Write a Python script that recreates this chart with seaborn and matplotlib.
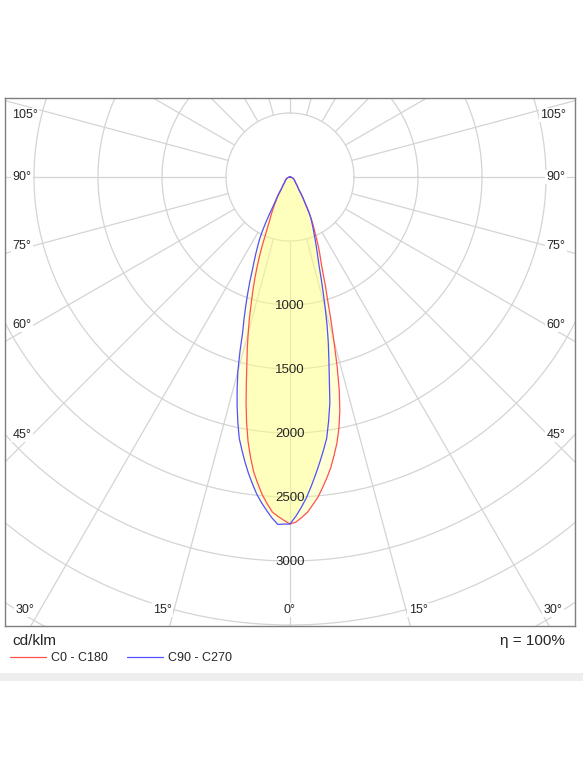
import numpy as np
import pandas as pd
import seaborn as sns
import matplotlib.pyplot as plt
from matplotlib.patches import Rectangle

# gamma angles (deg) and luminous intensity (cd/klm) per half plane
gamma = list(range(0, 36)) + [37.5, 40, 45, 50, 55, 60, 65, 70, 75, 80, 85, 90]
tail = [100, 85, 60, 50, 42, 35, 28, 22, 15, 10, 5, 0]
c0 = [2711, 2696, 2660, 2622, 2566, 2510, 2439, 2367, 2292, 2202,
      2111, 2002, 1872, 1712, 1520, 1323, 1157, 1005, 897, 788,
      711, 654, 598, 541, 485, 445, 407, 366, 318, 270,
      229, 207, 184, 162, 140, 120] + tail
c180 = [2711, 2683, 2654, 2622, 2559, 2491, 2408, 2324, 2213, 2094,
        1952, 1799, 1640, 1498, 1380, 1262, 1151, 1039, 942, 850,
        758, 670, 582, 494, 431, 378, 345, 313, 282, 252,
        225, 204, 183, 162, 141, 120] + tail
c90 = [2711, 2650, 2580, 2504, 2415, 2326, 2237, 2149, 2061, 1929,
       1793, 1611, 1461, 1331, 1200, 1065, 943, 836, 740, 673,
       618, 568, 523, 483, 447, 414, 384, 355, 320, 280,
       240, 212, 187, 163, 141, 120] + tail
c270 = [2711, 2712, 2716, 2669, 2612, 2554, 2490, 2413, 2336, 2252,
        2165, 2079, 1960, 1837, 1707, 1575, 1418, 1263, 1161, 1060,
        965, 876, 787, 718, 658, 598, 545, 480, 405, 330,
        265, 225, 200, 178, 157, 137] + tail

ring_labels = [1000, 1500, 2000, 2500, 3000]
angle_labels = ['105°', '90°', '75°', '60°', '45°', '30°', '15°', '0°',
                '15°', '30°', '45°', '60°', '75°', '90°', '105°']
series_names = ['C0 - C180', 'C90 - C270']
unit_text = 'cd/klm'
eta_text = 'η = 100%'

# layout (pixels of the 583x777 canvas)
W, H = 583, 777
cx, cy = 290, 177          # pole of the diagram
scale = 0.128              # px per cd/klm
box = (4.5, 98, 575, 626)  # left, top, right, bottom
angle_pos = [(25, 115), (22, 177), (22, 246), (22, 325), (22, 435),
             (25, 610), (162, 610), (290, 610), (418, 610), (553, 610),
             (556, 435), (556, 325), (556, 246), (556, 177), (553, 115)]


def half_to_xy(left, right):
    g = np.radians(gamma)
    gl, il = g[::-1], np.array(left)[::-1]
    ir = np.array(right)
    x = np.concatenate([-il * np.sin(gl), ir[1:] * np.sin(g[1:])])
    y = np.concatenate([-il * np.cos(gl), -ir[1:] * np.cos(g[1:])])
    return x, y


rows = []
for name, (l, r) in zip(series_names, [(c180, c0), (c270, c90)]):
    x, y = half_to_xy(l, r)
    rows.append(pd.DataFrame({'x': x, 'y': y, 'curve': name}))
df = pd.concat(rows, ignore_index=True)

sns.set_style('white')
plt.rcParams['font.family'] = ['Liberation Sans', 'DejaVu Sans']

fig = plt.figure(figsize=(W / 100, H / 100), dpi=100)
l, t, r, b = box
ax = fig.add_axes([l / W, (H - b) / H, (r - l) / W, (b - t) / H])
ax.set_xlim((l - cx) / scale, (r - cx) / scale)
ax.set_ylim((cy - b) / scale, (cy - t) / scale)

# polar grid
grid_col = '#d4d4d4'
th = np.linspace(0, 2 * np.pi, 400)
for rr in range(500, 5000, 500):
    ax.plot(rr * np.cos(th), rr * np.sin(th), color=grid_col, lw=0.9, zorder=1)
for a in range(0, 360, 15):
    ar = np.radians(a)
    ax.plot([500 * np.sin(ar), 6000 * np.sin(ar)],
            [-500 * np.cos(ar), -6000 * np.cos(ar)], color=grid_col, lw=0.9, zorder=1)

# filled lobes
for name in series_names:
    d = df[df['curve'] == name]
    ax.fill(d['x'], d['y'], color='#ffff80', alpha=0.3, lw=0, zorder=2)

sns.lineplot(data=df, x='x', y='y', hue='curve', sort=False, estimator=None,
             palette=['#ff5050', '#5050ff'], linewidth=0.9, ax=ax, zorder=3)
handles, labels = ax.get_legend_handles_labels()
ax.get_legend().remove()

for v in ring_labels:
    ax.text(0, -v - 8, str(v), ha='center', va='center', fontsize=9.5, zorder=4)

ax.set_xlabel('')
ax.set_ylabel('')
ax.set_xticks([])
ax.set_yticks([])
for s in ax.spines.values():
    s.set_color('#7f7f7f')
    s.set_linewidth(1)

for txt, (px, py) in zip(angle_labels, angle_pos):
    fig.text(px / W, 1 - py / H, txt, ha='center', va='center', fontsize=9,
             bbox=dict(facecolor='white', edgecolor='none', pad=1))

fig.text(12 / W, 1 - 641 / H, unit_text, ha='left', va='center', fontsize=11)
fig.text(565 / W, 1 - 641 / H, eta_text, ha='right', va='center', fontsize=11)
fig.legend(handles, labels, loc='center left', bbox_to_anchor=(10 / W, 1 - 658 / H),
           ncol=2, frameon=False, fontsize=9, handlelength=2.9, handletextpad=0.4,
           columnspacing=1.5, borderpad=0, borderaxespad=0)

fig.patches.append(Rectangle((0, 1 - 681 / H), 1, 8 / H, transform=fig.transFigure,
                             facecolor='#eeeeee', edgecolor='none'))

fig.savefig('out.png', dpi=100)
